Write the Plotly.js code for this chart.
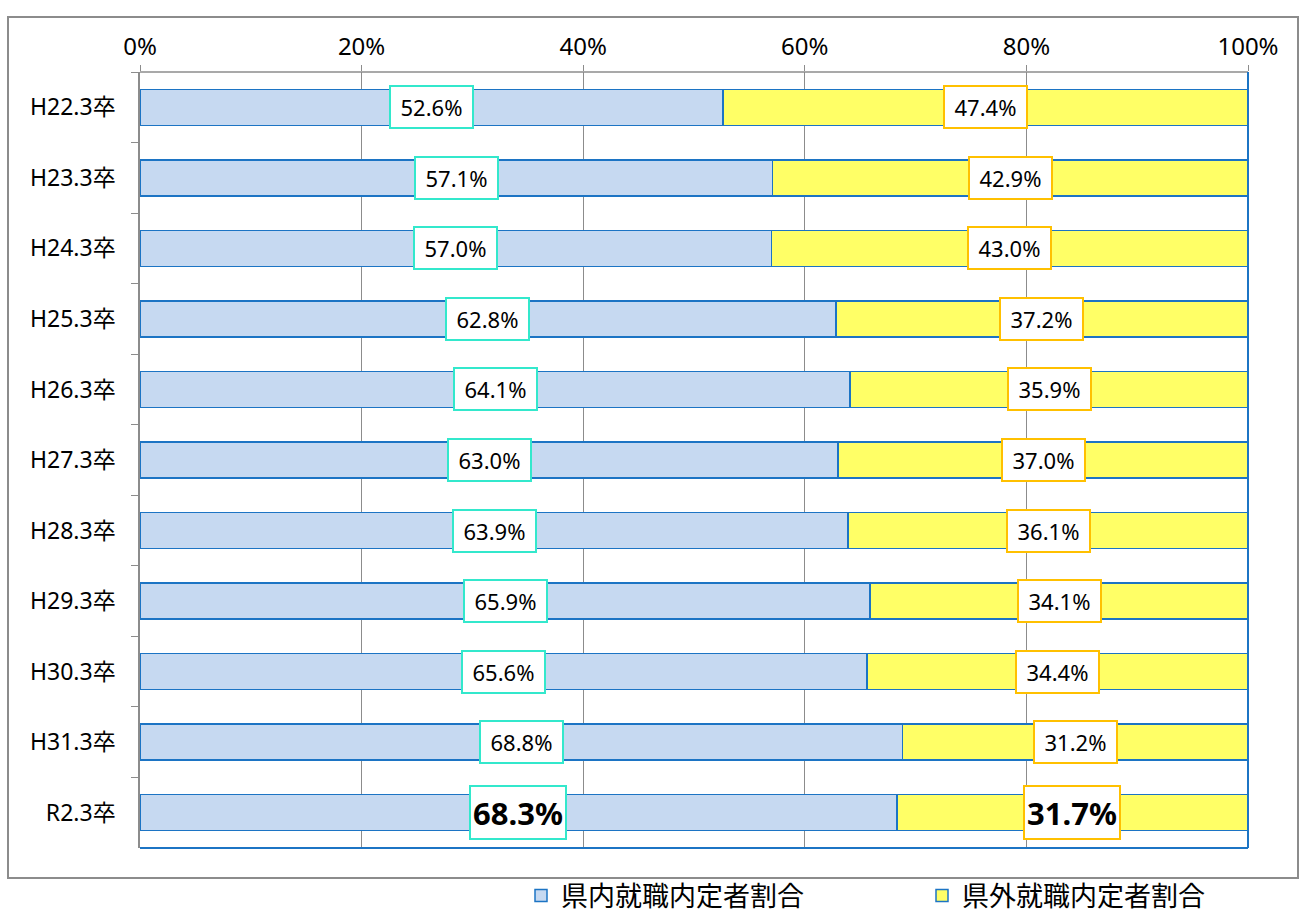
<!DOCTYPE html>
<html><head><meta charset="utf-8">
<script src="https://cdn.plot.ly/plotly-3.0.1.min.js"></script>
<style>html,body{margin:0;padding:0;background:#fff;}#chart{width:1309px;height:914px;}</style>
</head><body><div id="chart"></div>
<script>
const categories = ["H22.3卒","H23.3卒","H24.3卒","H25.3卒","H26.3卒","H27.3卒","H28.3卒","H29.3卒","H30.3卒","H31.3卒","R2.3卒"];
const inPref = [52.6,57.1,57.0,62.8,64.1,63.0,63.9,65.9,65.6,68.8,68.3];
const outPref = [47.4,42.9,43.0,37.2,35.9,37.0,36.1,34.1,34.4,31.2,31.7];
const seriesNames = ["県内就職内定者割合","県外就職内定者割合"];

const FONT = "'Noto Sans', 'Noto Sans CJK JP', sans-serif";
const barLine = {color:'#1C74C4', width:1.5};

const traces = [
  {type:'bar', orientation:'h', name:seriesNames[0], y:categories, x:inPref,
   marker:{color:'#C6D9F1', line:barLine}, hoverinfo:'x+y'},
  {type:'bar', orientation:'h', name:seriesNames[1], y:categories, x:outPref,
   marker:{color:'#FFFF66', line:barLine}, hoverinfo:'x+y'}
];

const annotations = [];
categories.forEach((c,i)=>{
  const last = i === categories.length-1;
  const common = {
    yref:'y', xref:'x', y:c, showarrow:false, bgcolor:'#fff', borderwidth:2, borderpad:1,
    width: last?92:79, height: last?49:38,
    font:{family:FONT, size: last?31:22, color:'#000'}
  };
  const fmt = v => (last?'<b>':'')+v.toFixed(1)+'%'+(last?'</b>':'');
  annotations.push(Object.assign({}, common, {x:inPref[i]/2, text:fmt(inPref[i]), bordercolor:'#33E8CC'}));
  annotations.push(Object.assign({}, common, {x:inPref[i]+outPref[i]/2, text:fmt(outPref[i]), bordercolor:'#FFC000'}));
});

const L=140, R=1248, T=72, B=848, W=R-L, H=B-T;
const px = v => (v-L)/W, py = v => (B-v)/H;

const shapes = [
  {type:'rect', xref:'paper', yref:'paper', x0:px(8), x1:px(1298), y0:py(878), y1:py(17), line:{color:'#8C8C8C', width:2}, layer:'below'},
  {type:'line', xref:'paper', yref:'paper', x0:0, x1:1, y0:1, y1:1, line:{color:'#8C8C8C', width:1.5}},
  {type:'line', xref:'paper', yref:'paper', x0:1, x1:1, y0:0, y1:1, line:{color:'#1C74C4', width:2}},
  {type:'line', xref:'paper', yref:'paper', x0:0, x1:1, y0:0, y1:0, line:{color:'#1C74C4', width:2}}
];

const layout = {
  width:1309, height:914,
  margin:{l:L, r:1309-R, t:T, b:914-B, autoexpand:false},
  paper_bgcolor:'#fff', plot_bgcolor:'#fff',
  barmode:'stack', bargap:0.49,
  font:{family:FONT, color:'#000'},
  xaxis:{side:'top', range:[0,100], dtick:20, ticksuffix:'%', showgrid:true, gridcolor:'#8C8C8C', gridwidth:1,
         ticks:'outside', ticklen:6, tickcolor:'#8C8C8C', showline:false, zeroline:false,
         tickfont:{size:24, family:FONT}, fixedrange:true, automargin:false},
  yaxis:{type:'category', autorange:'reversed', tickson:'boundaries', ticks:'outside', ticklen:7, tickcolor:'#8C8C8C',
         showline:true, linecolor:'#8C8C8C', linewidth:1.5, showgrid:false, zeroline:false,
         tickfont:{size:23, family:FONT}, ticklabelstandoff:18, fixedrange:true, automargin:false},
  showlegend:true,
  legend:{orientation:'h', x:px(521), xanchor:'left', y:py(896), yanchor:'middle',
          font:{size:27, family:FONT}, entrywidth:356, traceorder:'normal', itemclick:false,
          bgcolor:'rgba(0,0,0,0)', tracegroupgap:0},
  annotations, shapes
};
Plotly.newPlot('chart', traces, layout, {displayModeBar:false});
</script></body></html>
